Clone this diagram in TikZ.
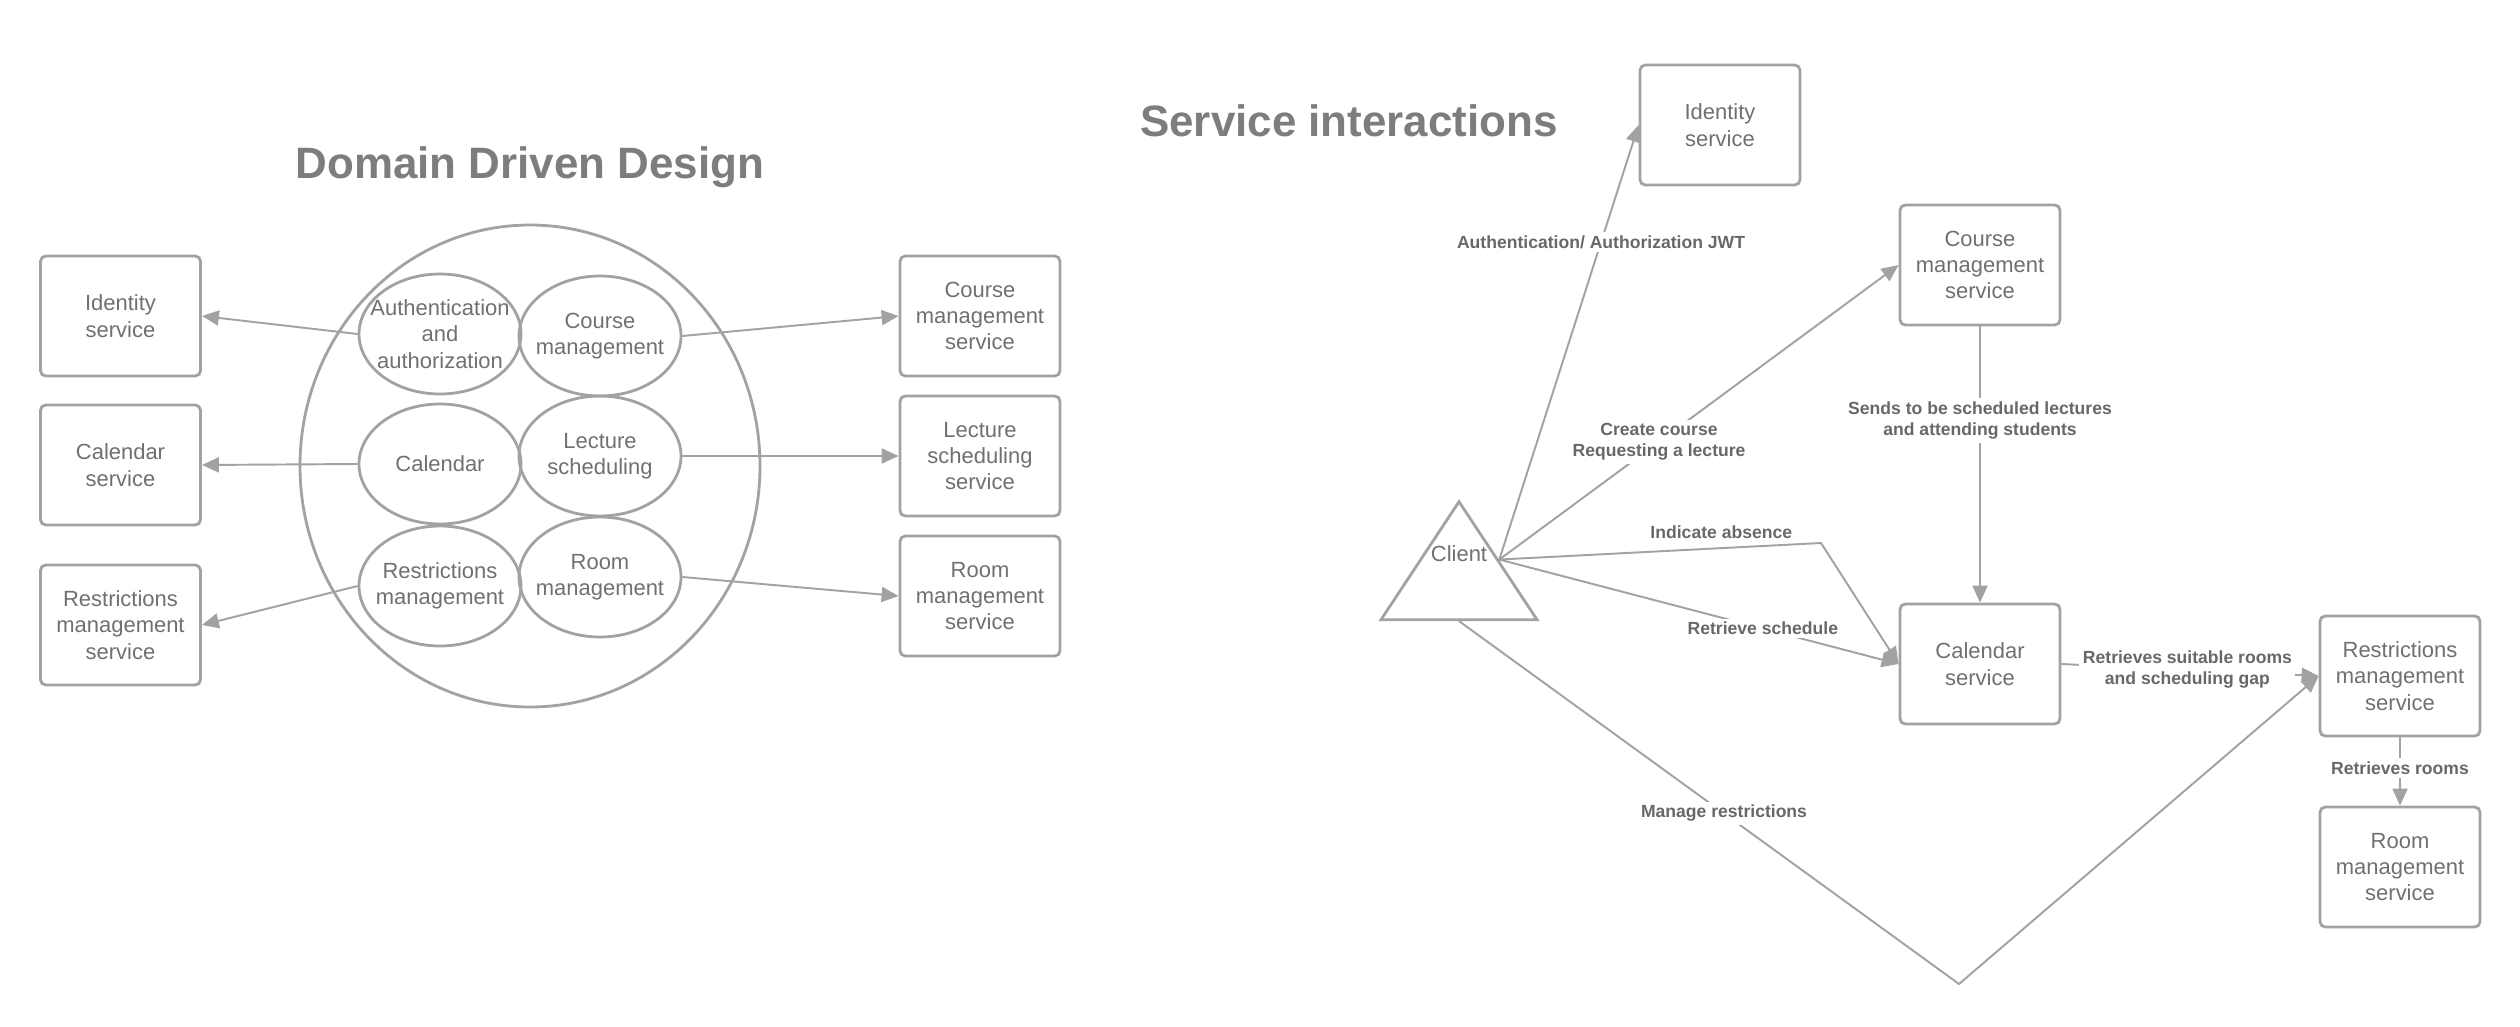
\documentclass[tikz,border=0pt]{standalone}
\usepackage{fontspec}
\setmainfont{Liberation Sans}
\usepackage{xcolor}
\usepackage{tikz}
\usetikzlibrary{arrows.meta,shapes.geometric}
\definecolor{svline}{RGB}{162,162,162}
\definecolor{svtext}{RGB}{112,112,112}
\definecolor{svhead}{RGB}{125,125,125}
\definecolor{svlbl}{RGB}{104,104,104}
\tikzset{
  svbox/.style={draw=svline, line width=1.6pt, rounded corners=3pt, fill=white,
    align=center, minimum width=3.2cm, minimum height=2.4cm, inner sep=2pt,
    text=svtext, font=\fontsize{12.5}{15}\selectfont},
  svdomain/.style={ellipse, draw=svline, line width=1.6pt, minimum width=3.24cm,
    minimum height=2.4cm, inner sep=0pt},
  svdomaintext/.style={align=center, text=svtext, font=\fontsize{12.5}{15}\selectfont},
  svclient/.style={isosceles triangle, shape border rotate=90,
    isosceles triangle stretches, draw=svline, line width=1.6pt,
    minimum width=3.12cm, minimum height=2.36cm, inner sep=0pt},
  svarrow/.style={-{Triangle[length=3.4mm,width=3mm]}, line width=1.1pt, draw=svline},
  svlabel/.style={fill=white, inner sep=2pt, align=center, text=svlbl,
    font=\fontsize{10}{12}\selectfont\bfseries},
  svtitle/.style={text=svhead, font=\fontsize{25}{30}\selectfont\bfseries}
}

\begin{document}
\begin{tikzpicture}
  \useasboundingbox (0,0) rectangle (50.40,-20.52);
  % domain driven design
  \node[svtitle] (tDomain) at (10.60,-3.34) {Domain Driven Design};
  \node[svdomain, minimum width=9.20cm, minimum height=9.64cm] (dCore) at (10.60,-9.32) {};
  \node[svdomain, label={[svdomaintext]center:{Authentication\\and\\authorization}}] (dAuth) at (8.80,-6.68) {};
  \node[svdomain, label={[svdomaintext]center:Calendar}] (dCal) at (8.80,-9.28) {};
  \node[svdomain, label={[svdomaintext]center:{Restrictions\\management}}] (dRes) at (8.80,-11.72) {};
  \node[svdomain, label={[svdomaintext]center:{Course\\management}}] (dCourse) at (12.00,-6.72) {};
  \node[svdomain, label={[svdomaintext]center:{Lecture\\scheduling}}] (dLect) at (12.00,-9.12) {};
  \node[svdomain, label={[svdomaintext]center:{Room\\management}}] (dRoom) at (12.00,-11.54) {};
  \node[svbox] (lIdent) at (2.41,-6.32) {Identity\\service};
  \node[svbox] (lCal) at (2.41,-9.30) {Calendar\\service};
  \node[svbox] (lRes) at (2.41,-12.50) {Restrictions\\management\\service};
  \node[svbox] (lCourse) at (19.60,-6.32) {Course\\management\\service};
  \node[svbox] (lLect) at (19.60,-9.12) {Lecture\\scheduling\\service};
  \node[svbox] (lRoom) at (19.60,-11.92) {Room\\management\\service};
  \draw[svarrow] (dAuth.west) -- (lIdent.east);
  \draw[svarrow] (dCal.west) -- (lCal.east);
  \draw[svarrow] (dRes.west) -- (lRes.east);
  \draw[svarrow] (dCourse.east) -- (lCourse.west);
  \draw[svarrow] (dLect.east) -- (lLect.west);
  \draw[svarrow] (dRoom.east) -- (lRoom.west);
  % service interactions
  \node[svtitle] (tService) at (26.98,-2.42) {Service interactions};
  \node[svclient, anchor=apex, label={[svdomaintext, yshift=0.48cm]center:Client}] (client) at (29.18,-9.96) {};
  \node[svbox] (sIdent) at (34.40,-2.50) {Identity\\service};
  \node[svbox] (sCourse) at (39.60,-5.30) {Course\\management\\service};
  \node[svbox] (sCal) at (39.60,-13.28) {Calendar\\service};
  \node[svbox] (sRes) at (48.00,-13.52) {Restrictions\\management\\service};
  \node[svbox] (sRoom) at (48.00,-17.34) {Room\\management\\service};
  \coordinate (bAbsence) at (36.42,-10.86);
  \coordinate (bManage) at (39.18,-19.68);
  \draw[svarrow] (client.right side) -- node[svlabel, pos=0.73] {Authentication/ Authorization JWT} (sIdent.west);
  \draw[svarrow] (client.right side) -- node[svlabel, pos=0.40] {Create course\\Requesting a lecture} (sCourse.west);
  \draw[svarrow] (client.right side) -- node[svlabel, fill=none, above=3pt, pos=0.69] {Indicate absence} (bAbsence) -- (sCal.west);
  \draw[svarrow] (client.right side) -- node[svlabel, pos=0.66] {Retrieve schedule} (sCal.west);
  \draw[svarrow] (sCourse.south) -- node[svlabel, pos=0.34] {Sends to be scheduled lectures\\and attending students} (sCal.north);
  \draw[svarrow] (sCal.east) -- node[svlabel, pos=0.49] {Retrieves suitable rooms\\and scheduling gap} (sRes.west);
  \draw[svarrow] (client.lower side) -- node[svlabel, pos=0.53] {Manage restrictions} (bManage) -- (sRes.west);
  \draw[svarrow] (sRes.south) -- node[svlabel, pos=0.45] {Retrieves rooms} (sRoom.north);
\end{tikzpicture}
\end{document}
